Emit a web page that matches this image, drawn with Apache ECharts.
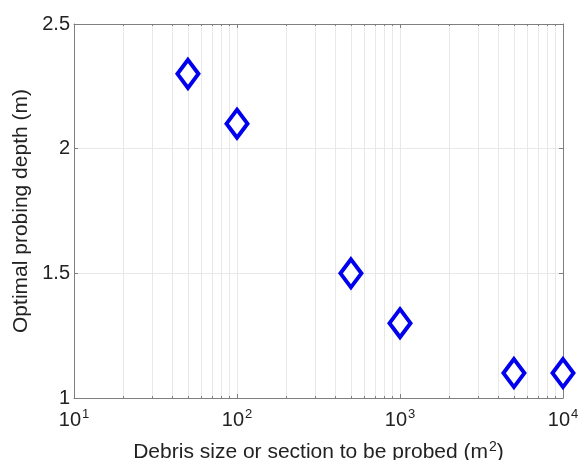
<!DOCTYPE html>
<html><head><meta charset="utf-8">
<script src="https://cdn.jsdelivr.net/npm/echarts@6/dist/echarts.min.js"></script>
<style>html,body{margin:0;padding:0;background:#fff}#c{width:579px;height:460px}</style>
</head><body><div id="c"></div>
<script>
const debrisSize = [50, 100, 500, 1000, 5000, 10000];
const probingDepth = [2.3, 2.1, 1.5, 1.3, 1.1, 1.1];
const yTicks = [1, 1.5, 2, 2.5];
const xTickExponents = [1, 2, 3, 4];

const FONT = 'Liberation Sans, Arial, sans-serif';
const chart = echarts.init(document.getElementById('c'), null, {renderer: 'canvas'});
const axisLineColor = '#7f7f7f';
const gridColor = '#e8e8e8';

const rich = {
  n: {fontSize: 20, fontFamily: FONT, color: '#222'},
  sup: {fontSize: 13, fontFamily: FONT, color: '#222', verticalAlign: 'bottom', padding: [0, 0, 11, 1]}
};
const richT = {
  n: {fontSize: 21, fontFamily: FONT, color: '#222'},
  sup: {fontSize: 14, fontFamily: FONT, color: '#222', verticalAlign: 'bottom', padding: [0, 0, 11, 1]}
};

chart.setOption({
  animation: false,
  grid: {left: 74, right: 16, top: 24, bottom: 62, containLabel: false, outerBoundsMode: 'none'},
  xAxis: [{
    type: 'log', logBase: 10, min: 10, max: 10000,
    position: 'bottom',
    axisLine: {lineStyle: {color: axisLineColor, width: 1}},
    axisTick: {inside: true, length: 4, lineStyle: {color: axisLineColor}},
    minorTick: {show: true, splitNumber: 9, length: 2, lineStyle: {color: axisLineColor}},
    splitLine: {show: true, lineStyle: {color: gridColor, width: 1}},
    minorSplitLine: {show: true, lineStyle: {color: gridColor, width: 1}},
    axisLabel: {
      margin: 10,
      formatter: v => '{n|10}{sup|' + Math.round(Math.log10(v)) + '}',
      rich: rich
    },
    name: '{n|Debris size or section to be probed (m}{sup|2}{n|)}',
    nameLocation: 'middle', nameGap: 42,
    nameTextStyle: {rich: richT}
  }, {
    type: 'log', logBase: 10, min: 10, max: 10000,
    position: 'top',
    axisLine: {lineStyle: {color: axisLineColor, width: 1}},
    axisTick: {inside: true, length: 4, lineStyle: {color: axisLineColor}},
    minorTick: {show: true, splitNumber: 9, length: 2, lineStyle: {color: axisLineColor}},
    splitLine: {show: false},
    axisLabel: {show: false}
  }],
  yAxis: [{
    type: 'value', min: 1, max: 2.5, interval: 0.5,
    axisLine: {show: true, lineStyle: {color: axisLineColor, width: 1}},
    axisTick: {show: true, inside: true, length: 4, lineStyle: {color: axisLineColor}},
    splitLine: {show: true, lineStyle: {color: gridColor, width: 1}},
    axisLabel: {
      margin: 4, fontSize: 20, fontFamily: FONT, color: '#222',
      formatter: v => (yTicks.indexOf(v) >= 0 ? String(v) : '')
    },
    name: 'Optimal probing depth (m)',
    nameLocation: 'middle', nameGap: 37,
    nameTextStyle: {fontSize: 21, fontFamily: FONT, color: '#222'}
  }, {
    type: 'value', min: 1, max: 2.5, interval: 0.5, position: 'right',
    axisLine: {show: true, lineStyle: {color: axisLineColor, width: 1}},
    axisTick: {show: true, inside: true, length: 4, lineStyle: {color: axisLineColor}},
    splitLine: {show: false},
    axisLabel: {show: false}
  }],
  series: [{
    type: 'scatter',
    xAxisIndex: 0, yAxisIndex: 0,
    data: debrisSize.map((x, i) => [x, probingDepth[i]]),
    symbol: 'diamond',
    symbolSize: [21, 28],
    itemStyle: {color: '#ffffff', borderColor: '#0000ee', borderWidth: 4, opacity: 1},
    clip: false
  }]
});
</script></body></html>
